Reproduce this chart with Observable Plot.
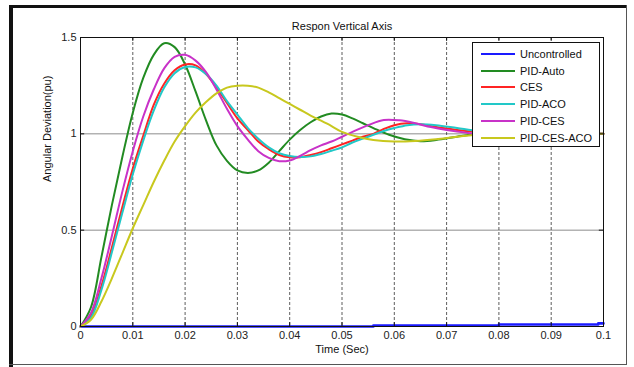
<!DOCTYPE html>
<html><head><meta charset="utf-8">
<script src="https://cdn.jsdelivr.net/npm/d3@7"></script>
<script src="https://cdn.jsdelivr.net/npm/@observablehq/plot@0.6"></script>
<style>
body{margin:0;background:#fff;}
#wrap{position:relative;width:634px;height:367px;overflow:hidden;font-family:"Liberation Sans",Arial,sans-serif;background:#fff;}
#wrap svg{position:absolute;left:0;top:0;}
.fr{position:absolute;background:#111;}
#legend{position:absolute;left:472px;top:42px;width:126px;height:103px;border:1px solid #111;background:#fff;font-size:11px;color:#111;}
.le{position:absolute;left:0;height:16px;width:126px;}
.le .sw{position:absolute;left:8px;top:7px;width:34px;height:2px;}
.le .tx{position:absolute;left:47px;top:0;line-height:16px;white-space:nowrap;}
</style></head><body><div id="wrap"></div>
<script>
// ---- data ----
const title = "Respon Vertical Axis";
const xLabel = "Time (Sec)";
const yLabel = "Angular Deviation(pu)";
const xTicks = [0,0.01,0.02,0.03,0.04,0.05,0.06,0.07,0.08,0.09,0.1];
const xTickLabels = ["0","0.01","0.02","0.03","0.04","0.05","0.06","0.07","0.08","0.09","0.1"];
const yTicks = [0,0.5,1,1.5];
const yTickLabels = ["0","0.5","1","1.5"];
const seriesNames = ["Uncontrolled","PID-Auto","CES","PID-ACO","PID-CES","PID-CES-ACO"];
const seriesColors = ["#1a1aff","#228b22","#ff2424","#22c8c8","#c832c8","#c8c81e"];

const tUncontrolled = [0,0.056,0.056,0.08,0.08,0.099,0.099,0.1];
const vUncontrolled = [0,0,0.005,0.005,0.01,0.01,0.016,0.016];

const tPidAuto = [0,0.002,0.004,0.006,0.008,0.010,0.012,0.014,0.016,0.018,0.020,0.022,0.024,0.026,0.028,0.030,0.032,0.034,0.036,0.038,0.040,0.042,0.044,0.046,0.048,0.050,0.052,0.054,0.056,0.059,0.062,0.065,0.068,0.072,0.076,0.080,0.085,0.090,0.095,0.100];
const vPidAuto = [0,0.10,0.36,0.63,0.88,1.11,1.29,1.41,1.47,1.45,1.36,1.22,1.07,0.94,0.86,0.81,0.797,0.81,0.85,0.91,0.97,1.02,1.06,1.09,1.105,1.10,1.08,1.055,1.03,0.995,0.972,0.962,0.968,0.985,1.0,1.008,1.005,1.0,1.0,1.0];

const tCes = [0,0.002,0.004,0.006,0.008,0.010,0.012,0.014,0.016,0.018,0.020,0.022,0.024,0.026,0.028,0.030,0.032,0.034,0.036,0.038,0.040,0.042,0.044,0.046,0.048,0.050,0.052,0.054,0.056,0.058,0.060,0.0625,0.065,0.068,0.072,0.076,0.080,0.085,0.090,0.095,0.100];
const vCes = [0,0.055,0.21,0.41,0.62,0.82,0.99,1.15,1.26,1.33,1.36,1.355,1.31,1.24,1.16,1.08,1.02,0.96,0.92,0.89,0.878,0.879,0.89,0.905,0.925,0.945,0.965,0.985,1.0,1.025,1.045,1.055,1.05,1.035,1.02,1.008,1.0,0.998,1.0,1.0,1.0];

const tPidAco = [0,0.002,0.004,0.006,0.008,0.010,0.012,0.014,0.016,0.018,0.020,0.022,0.024,0.026,0.028,0.030,0.032,0.034,0.036,0.038,0.040,0.042,0.044,0.046,0.048,0.050,0.052,0.054,0.056,0.058,0.060,0.0625,0.065,0.068,0.072,0.076,0.080,0.085,0.090,0.095,0.100];
const vPidAco = [0,0.045,0.19,0.385,0.59,0.79,0.965,1.12,1.24,1.315,1.347,1.345,1.31,1.25,1.17,1.10,1.03,0.975,0.93,0.90,0.885,0.88,0.883,0.895,0.912,0.93,0.955,0.975,0.995,1.015,1.03,1.045,1.05,1.045,1.03,1.015,1.005,1.0,1.0,1.0,1.0];

const tPidCes = [0,0.002,0.004,0.006,0.008,0.010,0.012,0.014,0.016,0.018,0.020,0.022,0.024,0.026,0.028,0.030,0.032,0.034,0.036,0.038,0.040,0.042,0.044,0.046,0.048,0.050,0.052,0.055,0.058,0.061,0.064,0.067,0.070,0.074,0.078,0.082,0.088,0.094,0.100];
const vPidCes = [0,0.07,0.25,0.47,0.70,0.91,1.09,1.23,1.34,1.40,1.41,1.38,1.32,1.23,1.13,1.04,0.97,0.91,0.875,0.858,0.862,0.885,0.915,0.94,0.96,0.985,1.01,1.045,1.072,1.07,1.055,1.035,1.02,1.005,0.995,0.995,1.0,1.0,1.0];

const tPidCesAco = [0,0.002,0.004,0.006,0.008,0.010,0.012,0.014,0.016,0.018,0.020,0.022,0.024,0.026,0.028,0.030,0.032,0.034,0.036,0.038,0.040,0.042,0.044,0.046,0.048,0.050,0.053,0.056,0.060,0.064,0.068,0.072,0.076,0.080,0.085,0.090,0.095,0.100];
const vPidCesAco = [0,0.035,0.13,0.25,0.38,0.51,0.63,0.75,0.86,0.96,1.04,1.11,1.165,1.21,1.24,1.25,1.25,1.24,1.215,1.185,1.155,1.125,1.095,1.068,1.04,1.01,0.985,0.968,0.96,0.963,0.972,0.985,0.995,1.0,1.002,1.0,1.0,1.0];

// ---- build ----
const seriesT = [tUncontrolled,tPidAuto,tCes,tPidAco,tPidCes,tPidCesAco];
const seriesV = [vUncontrolled,vPidAuto,vCes,vPidAco,vPidCes,vPidCesAco];
const series = seriesNames.map((name,i)=>({name,color:seriesColors[i],
  data: seriesT[i].map((t,j)=>({t, v: seriesV[i][j]}))}));

const xGrid = xTicks.slice(1,-1);
const yGrid = yTicks.slice(1,-1);

const lineMarks = series.map((s,i)=>Plot.line(s.data,{x:"t",y:"v",stroke:s.color,
  strokeWidth: i===0 ? 2.6 : 2, curve: i===0 ? "linear" : "catmull-rom"}));

const chart = Plot.plot({
  width:634, height:367,
  marginLeft:80, marginRight:31, marginTop:37, marginBottom:41,
  style:{fontFamily:'"Liberation Sans",Arial,sans-serif', fontSize:"11px", color:"#222", background:"transparent"},
  x:{domain:[0,0.1]},
  y:{domain:[0,1.5]},
  marks:[
    Plot.ruleY(yGrid,{stroke:"#8c8c8c",strokeWidth:1}),
    Plot.ruleX(xGrid,{stroke:"#333",strokeWidth:0.8,strokeDasharray:"3,2"}),
    ...lineMarks,
    Plot.frame({stroke:"#111",strokeWidth:1}),
    Plot.ruleX(xTicks,{y1:0,y2:0.02,stroke:"#111"}),
    Plot.ruleX(xTicks,{y1:1.5,y2:1.48,stroke:"#111"}),
    Plot.ruleY(yTicks,{x1:0,x2:0.0008,stroke:"#111"}),
    Plot.ruleY(yTicks,{x1:0.1,x2:0.0992,stroke:"#111"}),
    Plot.axisX({ticks:xTicks, tickFormat:d=>xTickLabels[xTicks.indexOf(d)], tickSize:0, tickPadding:5, label:null}),
    Plot.axisY({ticks:yTicks, tickFormat:d=>yTickLabels[yTicks.indexOf(d)], tickSize:0, tickPadding:4, label:null}),
    Plot.text([title],{frameAnchor:"top", dy:-15, text:d=>d, fill:"#111"}),
    Plot.text([xLabel],{frameAnchor:"bottom", dy:26, text:d=>d, fill:"#111"}),
    Plot.text([yLabel],{frameAnchor:"left", dx:-33, rotate:-90, text:d=>d, fill:"#111"})
  ]
});
const wrap = document.getElementById("wrap");
wrap.appendChild(chart);

// outer figure frame
[["left:9px;top:5px;width:4px;height:362px"],
 ["left:9px;top:5px;width:618px;height:3px"],
 ["left:626px;top:5px;width:1px;height:360px;background:#555"],
 ["left:9px;top:364px;width:618px;height:1px;background:#555"]].forEach(([css])=>{
  const d=document.createElement("div"); d.className="fr"; d.style.cssText=css; wrap.appendChild(d);
});

// legend
const lg = document.createElement("div"); lg.id="legend"; wrap.appendChild(lg);
series.forEach((s,i)=>{
  const e=document.createElement("div"); e.className="le"; e.style.top=(3+i*16.7)+"px";
  const sw=document.createElement("div"); sw.className="sw"; sw.style.background=s.color;
  const tx=document.createElement("div"); tx.className="tx"; tx.textContent=s.name;
  e.appendChild(sw); e.appendChild(tx); lg.appendChild(e);
});
</script></body></html>
